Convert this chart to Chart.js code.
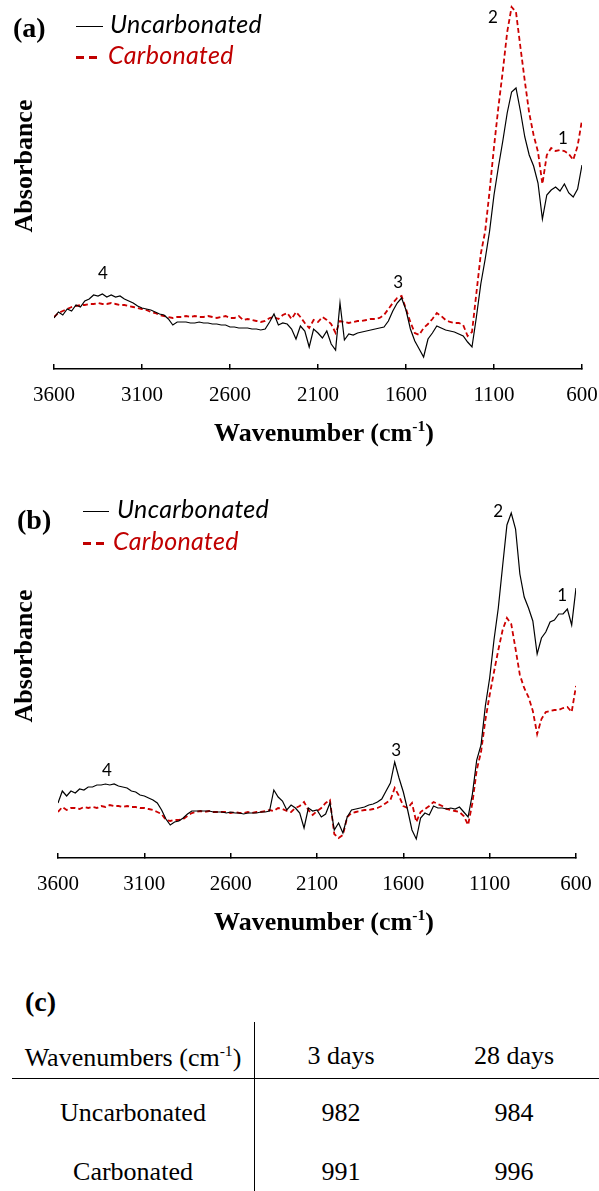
<!DOCTYPE html>
<html lang="en">
<head>
<meta charset="UTF-8">
<title>FTIR spectra</title>
<script src="https://cdn.jsdelivr.net/npm/chart.js"></script>
<style>
  body { margin: 0; background: #fff; width: 599px; height: 1191px; position: relative; overflow: hidden; }
  canvas { position: absolute; left: 0; }
  .abs { position: absolute; white-space: nowrap; line-height: 1; }
  .panel { font-family: 'Liberation Serif', serif; font-weight: bold; font-size: 28px; }
  .leg { font-family: Lato, sans-serif; font-style: italic; font-size: 25px; letter-spacing: 0.3px; }
  .red { color: #c00000; }
  .key { position: absolute; }
  .ytitle { font-family: 'Liberation Serif', serif; font-weight: bold; font-size: 26px; width: 200px; height: 26px; text-align: center; transform: rotate(-90deg); }
  .xtitle { font-family: 'Liberation Serif', serif; font-weight: bold; font-size: 26px; width: 400px; text-align: center; }
  .xtitle sup { font-size: 0.6em; }
  .cell { font-family: 'Liberation Serif', serif; font-size: 26px; width: 240px; text-align: center; }
  .cell sup { font-size: 0.6em; }
</style>
</head>
<body>

<canvas id="chartA" width="599" height="460" style="top:0"></canvas>
<canvas id="chartB" width="599" height="460" style="top:489px"></canvas>

<!-- panel (a) labels + legend -->
<div class="abs panel" style="left:13px;top:14px">(a)</div>
<div class="key" style="left:76px;top:26px;width:27px;border-top:1.5px solid #000"></div>
<div class="abs leg" style="left:110px;top:11px">Uncarbonated</div>
<div class="key" style="left:76px;top:56px;width:8px;height:3px;background:#c00000"></div>
<div class="key" style="left:89px;top:56px;width:8px;height:3px;background:#c00000"></div>
<div class="abs leg red" style="left:108px;top:42px">Carbonated</div>
<div class="abs ytitle" style="left:-76px;top:153px">Absorbance</div>
<div class="abs xtitle" style="left:124px;top:418px">Wavenumber (cm<sup>-1</sup>)</div>

<!-- panel (b) labels + legend -->
<div class="abs panel" style="left:17px;top:506px">(b)</div>
<div class="key" style="left:83px;top:511px;width:26px;border-top:1.5px solid #000"></div>
<div class="abs leg" style="left:117px;top:496px">Uncarbonated</div>
<div class="key" style="left:83px;top:542px;width:8px;height:3px;background:#c00000"></div>
<div class="key" style="left:96px;top:542px;width:8px;height:3px;background:#c00000"></div>
<div class="abs leg red" style="left:113px;top:528px">Carbonated</div>
<div class="abs ytitle" style="left:-76px;top:643px">Absorbance</div>
<div class="abs xtitle" style="left:124px;top:907px">Wavenumber (cm<sup>-1</sup>)</div>

<!-- panel (c) table -->
<div class="abs panel" style="left:25px;top:988px">(c)</div>
<div class="key" style="left:12px;top:1078px;width:587px;border-top:1.5px solid #000"></div>
<div class="key" style="left:254px;top:1022px;height:169px;border-left:1.5px solid #000"></div>
<div id="table"></div>

<script>
  // wavenumber grid (cm-1), read every 25 cm-1
  const wavenumbers = [3600,3575,3550,3525,3500,3475,3450,3425,3400,3375,
    3350,3325,3300,3275,3250,3225,3200,3175,3150,3125,
    3100,3075,3050,3025,3000,2975,2950,2925,2900,2875,
    2850,2825,2800,2775,2750,2725,2700,2675,2650,2625,
    2600,2575,2550,2525,2500,2475,2450,2425,2400,2375,
    2350,2325,2300,2275,2250,2225,2200,2175,2150,2125,
    2100,2075,2050,2025,2000,1975,1950,1925,1900,1875,
    1850,1825,1800,1775,1750,1725,1700,1675,1650,1625,
    1600,1575,1550,1525,1500,1475,1450,1425,1400,1375,
    1350,1325,1300,1275,1250,1225,1200,1175,1150,1125,
    1100,1075,1050,1025,1000,975,950,925,900,875,
    850,825,800,775,750,725,700,675,650,625,600];

  const xTicks = [3600, 3100, 2600, 2100, 1600, 1100, 600];

  // absorbance, arbitrary units (a) 3 days
  const uncarbA = [51,57,54,60,58,64,62,68,70,74,
    73,75,72,74,72,73,70,68,66,63,
    61,60,59,57,55,54,50,44,47,47,
    47,46,46,47,46,46,45,45,44,44,
    42,42,41,41,41,40,40,39,40,47,
    55,44,46,45,40,30,43,38,22,40,
    36,31,38,25,19,66,29,35,34,36,
    37,38,39,40,41,42,48,58,66,71,
    59,40,28,20,12,30,36,43,41,39,
    38,37,35,33,27,22,52,85,110,138,
    174,202,228,256,277,281,258,232,214,203,
    186,150,174,179,182,178,185,176,172,180,204];
  const carbA = [52,56,58,60,62,63,64,64,65,65,
    66,65,65,66,65,64,64,63,62,61,
    60,59,57,56,54,53,52,51,52,52,
    53,52,53,52,52,53,52,51,52,53,
    51,51,53,49,50,49,48,47,48,51,
    52,50,54,56,50,57,52,46,41,49,
    47,52,49,45,36,48,47,46,47,48,
    48,49,50,50,51,54,60,66,71,73,
    60,47,36,34,41,45,50,56,53,49,
    47,46,46,44,33,37,76,115,138,178,
    222,262,298,337,362,357,322,288,256,234,
    217,185,214,221,218,219,218,215,209,223,249];

  // absorbance, arbitrary units (b) 28 days
  const uncarbB = [55,67,62,67,65,69,68,71,71,73,
    73,74,73,74,72,71,70,67,66,63,
    62,60,58,55,48,39,33,36,37,40,
    44,47,47,47,47,47,46,46,46,45,
    46,45,45,44,45,45,45,46,46,47,
    68,61,57,48,53,50,45,30,50,47,
    48,41,44,55,28,35,25,41,48,49,
    50,51,53,54,56,59,67,75,96,80,
    66,48,28,19,40,45,43,52,50,50,
    49,50,49,51,46,41,64,98,113,152,
    180,218,250,292,333,345,329,284,261,250,
    237,204,220,226,236,238,244,244,249,233,270];
  const carbB = [46,51,48,50,50,49,51,50,51,50,
    52,51,53,52,52,51,52,51,51,50,
    50,49,48,46,44,38,37,38,38,39,
    42,45,46,47,46,47,46,46,46,46,
    45,46,45,45,46,45,46,46,47,48,
    47,50,49,47,46,50,52,56,48,43,
    47,50,55,58,24,20,23,41,45,46,
    47,48,48,49,50,52,55,58,70,62,
    52,50,55,36,46,49,52,56,54,52,
    49,48,47,46,42,33,55,88,106,138,
    163,186,208,228,240,234,209,183,170,161,
    147,124,139,146,147,148,148,150,151,146,172];

  // band labels (wavenumber, absorbance)
  const bandNames = ['1', '2', '3', '4'];
  const bandWnA = [708, 1106, 1645, 3322];
  const bandAbsA = [230, 351, 86, 95];
  const bandWnB = [680, 1051, 1642, 3316];
  const bandAbsB = [262, 346, 107, 87];

  // table (c)
  const tableHeader = ['Wavenumbers (cm<sup>-1</sup>)', '3 days', '28 days'];
  const tableRows = [
    ['Uncarbonated', 982, 984],
    ['Carbonated', 991, 996]
  ];

  const bandLabels = {
    id: 'bandLabels',
    afterDatasetsDraw(chart, args, opts) {
      const { ctx, scales: { x, y } } = chart;
      ctx.save();
      ctx.font = '17px Lato';
      ctx.fillStyle = '#000';
      ctx.textAlign = 'center';
      ctx.textBaseline = 'middle';
      opts.names.forEach((n, i) => {
        ctx.fillText(n, x.getPixelForValue(opts.wn[i]), y.getPixelForValue(opts.abs[i]));
      });
      ctx.restore();
    }
  };

  const toPoints = vals => wavenumbers.map((w, i) => ({ x: w, y: vals[i] }));

  function makeChart(id, uncarb, carb, padLeft, padRight, bandWn, bandAbs) {
    return new Chart(document.getElementById(id), {
      type: 'line',
      data: {
        datasets: [
          {
            label: 'Uncarbonated',
            data: toPoints(uncarb),
            borderColor: '#000',
            borderWidth: 1.2,
            pointRadius: 0,
            tension: 0
          },
          {
            label: 'Carbonated',
            data: toPoints(carb),
            borderColor: '#cc0000',
            borderWidth: 1.8,
            borderDash: [5, 3],
            pointRadius: 0,
            tension: 0
          }
        ]
      },
      options: {
        responsive: false,
        animation: false,
        layout: { padding: { left: padLeft, right: padRight, top: 4, bottom: 0 } },
        plugins: {
          legend: { display: false },
          tooltip: { enabled: false },
          bandLabels: { names: bandNames, wn: bandWn, abs: bandAbs }
        },
        scales: {
          x: {
            type: 'linear',
            reverse: true,
            min: 600,
            max: 3600,
            afterBuildTicks: s => { s.ticks = xTicks.map(v => ({ value: v })); },
            afterFit: s => {
              s.height = 91;
              // labels may overhang the plot edges; keep the plot width fixed
              s.paddingLeft = 0;
              s.paddingRight = 0;
            },
            ticks: {
              color: '#000',
              font: { family: 'Liberation Serif', size: 21 },
              padding: 19,
              maxRotation: 0,
              autoSkip: false,
              callback: v => String(v)
            },
            grid: {
              drawOnChartArea: false,
              drawTicks: true,
              tickLength: -5,   // ticks point up into the plot
              color: '#000',
              lineWidth: 1.5
            },
            border: { display: true, color: '#000', width: 1.5 }
          },
          y: { display: false, min: 0, max: 365 }
        }
      },
      plugins: [bandLabels]
    });
  }

  makeChart('chartA', uncarbA, carbA, 54, 17, bandWnA, bandAbsA);
  makeChart('chartB', uncarbB, carbB, 58, 23, bandWnB, bandAbsB);

  // table cells
  const colCenters = [133, 341, 514];
  const rowTops = [1043, 1100, 1159];
  const table = document.getElementById('table');
  [tableHeader, ...tableRows].forEach((row, r) => {
    row.forEach((txt, c) => {
      const d = document.createElement('div');
      d.className = 'abs cell';
      d.style.left = (colCenters[c] - 120) + 'px';
      d.style.top = rowTops[r] + 'px';
      d.innerHTML = txt;
      table.appendChild(d);
    });
  });
</script>

</body>
</html>
